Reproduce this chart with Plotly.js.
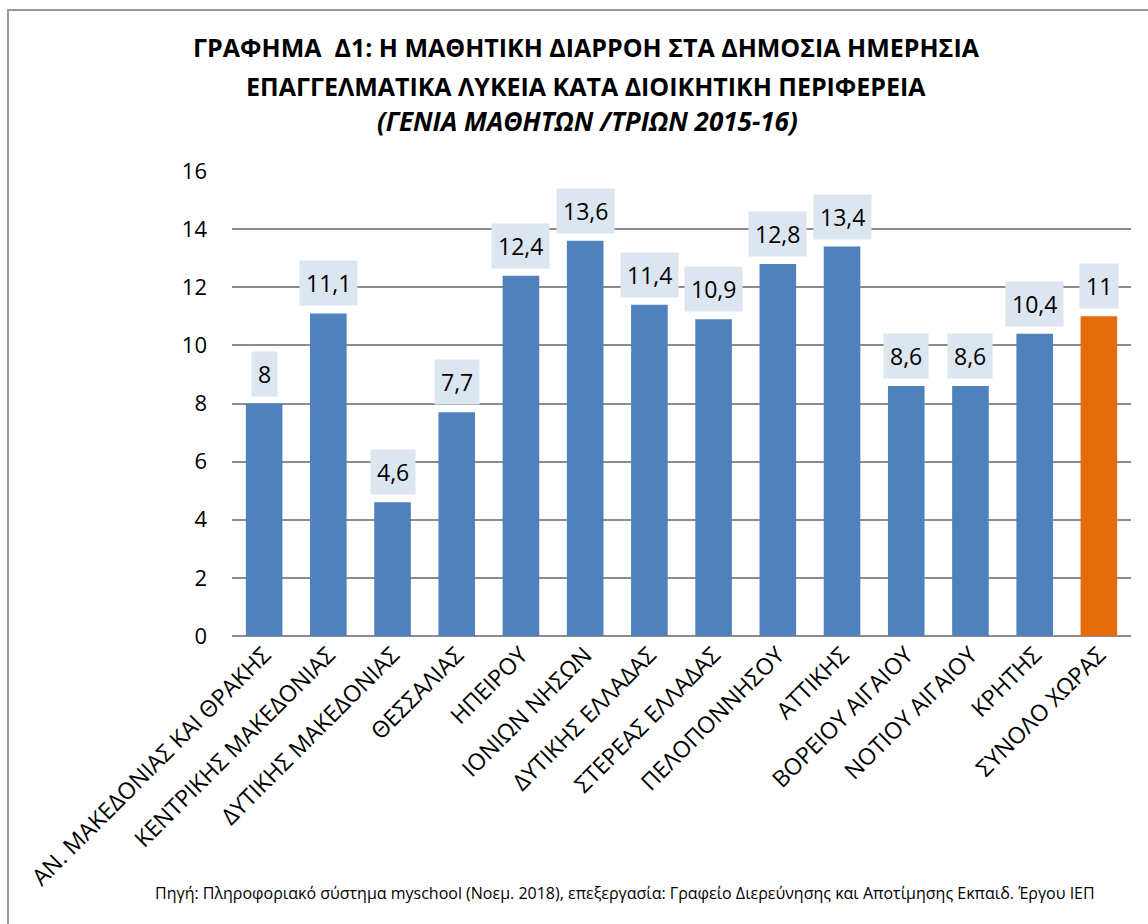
<!DOCTYPE html>
<html>
<head>
<meta charset="utf-8">
<script src="https://cdn.plot.ly/plotly-3.0.1.min.js"></script>
<style>
  html, body { margin: 0; padding: 0; background: #fff; }
  #wrap { position: relative; width: 1148px; height: 924px; overflow: hidden; }
  #chart { position: absolute; left: 0; top: 0; width: 1148px; height: 924px; }
  #frame { position: absolute; left: 7px; top: 9px; width: 1160px; height: 940px;
           border-left: 2px solid #989898; border-top: 2px solid #989898; pointer-events: none; }
</style>
</head>
<body>
<div id="wrap">
  <div id="chart"></div>
  <div id="frame"></div>
</div>
<script>
const categories = [
  "ΑΝ. ΜΑΚΕΔΟΝΙΑΣ ΚΑΙ ΘΡΑΚΗΣ",
  "ΚΕΝΤΡΙΚΗΣ ΜΑΚΕΔΟΝΙΑΣ",
  "ΔΥΤΙΚΗΣ ΜΑΚΕΔΟΝΙΑΣ",
  "ΘΕΣΣΑΛΙΑΣ",
  "ΗΠΕΙΡΟΥ",
  "ΙΟΝΙΩΝ ΝΗΣΩΝ",
  "ΔΥΤΙΚΗΣ ΕΛΛΑΔΑΣ",
  "ΣΤΕΡΕΑΣ ΕΛΛΑΔΑΣ",
  "ΠΕΛΟΠΟΝΝΗΣΟΥ",
  "ΑΤΤΙΚΗΣ",
  "ΒΟΡΕΙΟΥ ΑΙΓΑΙΟΥ",
  "ΝΟΤΙΟΥ ΑΙΓΑΙΟΥ",
  "ΚΡΗΤΗΣ",
  "ΣΥΝΟΛΟ ΧΩΡΑΣ"
];
const values = [8, 11.1, 4.6, 7.7, 12.4, 13.6, 11.4, 10.9, 12.8, 13.4, 8.6, 8.6, 10.4, 11];
const totalCategory = "ΣΥΝΟΛΟ ΧΩΡΑΣ";
const yTicks = [0, 2, 4, 6, 8, 10, 12, 14, 16];

const titleLines = [
  "ΓΡΑΦΗΜΑ  Δ1: Η ΜΑΘΗΤΙΚΗ ΔΙΑΡΡΟΗ ΣΤΑ ΔΗΜΟΣΙΑ ΗΜΕΡΗΣΙΑ",
  "ΕΠΑΓΓΕΛΜΑΤΙΚΑ ΛΥΚΕΙΑ ΚΑΤΑ ΔΙΟΙΚΗΤΙΚΗ ΠΕΡΙΦΕΡΕΙΑ",
  "(ΓΕΝΙΑ ΜΑΘΗΤΩΝ /ΤΡΙΩΝ 2015-16)"
];
const sourceText = "Πηγή: Πληροφοριακό σύστημα myschool (Νοεμ. 2018), επεξεργασία: Γραφείο Διερεύνησης και Αποτίμησης Εκπαιδ. Έργου ΙΕΠ";

const BLUE = "#4f81bd", ORANGE = "#e46c0a", LABELBG = "#dce6f1";
const FONT = "Open Sans, Noto Sans, sans-serif";

const colors = categories.map(c => c === totalCategory ? ORANGE : BLUE);
const fmt = v => String(v).replace(".", ",");

const trace = {
  type: "bar",
  x: categories,
  y: values,
  marker: { color: colors, line: { width: 0 } },
  hoverinfo: "x+y"
};

const labelAnnotations = categories.map((c, i) => ({
  x: c, y: values[i], xref: "x", yref: "y",
  text: fmt(values[i]),
  showarrow: false,
  yanchor: "bottom",
  yshift: 7,
  bgcolor: LABELBG,
  borderpad: 6,
  font: { family: FONT, size: 23, color: "#000" }
}));

const L = 232, T = 171, PW = 899, PH = 465;
const py = yPix => (T + PH - yPix) / PH;   // pixel -> paper y
const px = xPix => (xPix - L) / PW;          // pixel -> paper x

const textAnnotations = [
  { text: "<b>" + titleLines[1] + "</b>", x: px(586), y: py(86), font: { family: FONT, size: 25, color: "#000" } },
  { text: "<b><i>" + titleLines[2] + "</i></b>", x: px(587), y: py(121), font: { family: FONT, size: 26, color: "#000" } }
].map(a => Object.assign({
  xref: "paper", yref: "paper", xanchor: "center", yanchor: "middle",
  showarrow: false
}, a));

textAnnotations.push({
  text: sourceText, xref: "paper", yref: "paper",
  x: px(625), y: py(893), xanchor: "center", yanchor: "middle",
  showarrow: false, font: { family: FONT, size: 16, color: "#000" }
});

const layout = {
  width: 1148, height: 924,
  margin: { l: L, r: 1148 - L - PW, t: T, b: 924 - T - PH, pad: 0 },
  paper_bgcolor: "#fff",
  plot_bgcolor: "#fff",
  separators: ",.",
  showlegend: false,
  bargap: 0.43,
  title: {
    text: "<b>" + titleLines[0] + "</b>",
    x: 586 / 1148, xanchor: "center", xref: "container",
    y: 1 - 48 / 924, yanchor: "middle", yref: "container",
    font: { family: FONT, size: 25, color: "#000" }
  },
  xaxis: {
    type: "category",
    tickangle: -45,
    tickfont: { family: FONT, size: 23, color: "#000" },
    showgrid: false,
    showline: false,
    ticks: "",
    automargin: false
  },
  yaxis: {
    range: [0, 16],
    tickvals: yTicks,
    ticktext: yTicks.map(String),
    tickfont: { family: FONT, size: 22, color: "#000" },
    showgrid: true,
    gridcolor: "#8c8c8c",
    gridwidth: 1.5,
    zeroline: true,
    zerolinecolor: "#8c8c8c",
    zerolinewidth: 1.5,
    showline: false,
    ticks: "",
    ticklabelstandoff: 24,
    automargin: false
  },
  annotations: labelAnnotations.concat(textAnnotations)
};

Plotly.newPlot("chart", [trace], layout, { displayModeBar: false, responsive: false });
</script>
</body>
</html>
